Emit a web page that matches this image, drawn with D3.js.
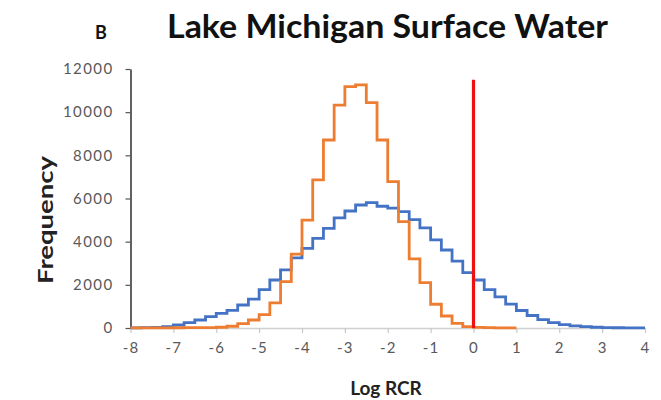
<!DOCTYPE html>
<html>
<head>
<meta charset="utf-8">
<script src="https://cdn.jsdelivr.net/npm/d3@7/dist/d3.min.js"></script>
<style>
  html, body { margin: 0; padding: 0; background: #fff; }
  svg { display: block; }
  text { font-family: Lato, "Open Sans", sans-serif; }
</style>
</head>
<body>
<script>
// Histogram of log RCR values, bins of 0.25 starting at -8
const binStart = -8;
const binWidth = 0.25;

// Blue series: -8 .. 4
const blueCounts = [
  10, 15, 30, 62, 139, 246, 370, 525,
  681, 820, 1065, 1340, 1780, 2224, 2690, 3250,
  3690, 4155, 4620, 5100, 5420, 5700, 5810, 5640,
  5550, 5390, 5020, 4640, 4080, 3614, 3100, 2563,
  2224, 1780, 1440, 1105, 810, 580, 390, 246,
  155, 100, 62, 35, 20, 12, 8, 5
];

// Orange series: -8 .. 1
const orangeCounts = [
  5, 5, 8, 10, 12, 15, 18, 22,
  35, 80, 200, 370, 620, 1160, 2145, 3420,
  5000, 6860, 8710, 10330, 11180, 11260, 10440, 8710,
  6780, 4925, 3200, 2100, 1100, 556, 216, 62,
  30, 15, 8, 4
];

// Threshold marker at log RCR = 0
const thresholdX = 0;
const thresholdTop = 11500;

const xTicks = [-8, -7, -6, -5, -4, -3, -2, -1, 0, 1, 2, 3, 4];
const yTicks = [0, 2000, 4000, 6000, 8000, 10000, 12000];

const titleText = "Lake Michigan Surface Water";
const panelLetter = "B";
const xTitle = "Log RCR";
const yTitle = "Frequency";

const W = 661, H = 400;
const svg = d3.select("body").append("svg").attr("width", W).attr("height", H);

const x = d3.scaleLinear().domain([-8, 4]).range([130.5, 645]);
const y = d3.scaleLinear().domain([0, 12000]).range([328, 69]);

// x axis (light gray, ticks downward)
const xAxis = svg.append("g")
  .attr("transform", `translate(0,${y(0)})`)
  .call(d3.axisBottom(x).tickValues(xTicks).tickSize(5).tickSizeOuter(0).tickPadding(9)
    .tickFormat(d => String(d)));
xAxis.select(".domain").attr("stroke", "#d0d0d0").attr("stroke-width", 1.5);
xAxis.selectAll(".tick line").attr("stroke", "#c8c8c8").attr("stroke-width", 1.2);
xAxis.selectAll(".tick text")
  .attr("fill", "#595959").attr("font-size", 15).style("letter-spacing", "1.2px");

// y axis (dark, ticks left)
const yAxis = svg.append("g")
  .attr("transform", `translate(${x(-8)},0)`)
  .call(d3.axisLeft(y).tickValues(yTicks).tickSize(5).tickSizeOuter(0).tickPadding(12)
    .tickFormat(d => String(d)));
yAxis.select(".domain").attr("stroke", "#3a3a3a").attr("stroke-width", 1.6);
yAxis.selectAll(".tick line").attr("stroke", "#555").attr("stroke-width", 1.2);
yAxis.selectAll(".tick text")
  .attr("fill", "#595959").attr("font-size", 15).style("letter-spacing", "1.4px");

// step outlines
function stepPoints(counts) {
  const pts = counts.map((v, i) => [binStart + i * binWidth, v]);
  pts.push([binStart + counts.length * binWidth, counts[counts.length - 1]]);
  return pts;
}
const stepLine = d3.line().x(d => x(d[0])).y(d => y(d[1])).curve(d3.curveStepAfter);

svg.append("path")
  .attr("d", stepLine(stepPoints(blueCounts)))
  .attr("fill", "none").attr("stroke", "#4472C4").attr("stroke-width", 2.8)
  .attr("stroke-linejoin", "miter");

svg.append("path")
  .attr("d", stepLine(stepPoints(orangeCounts)))
  .attr("fill", "none").attr("stroke", "#ED7D31").attr("stroke-width", 2.8)
  .attr("stroke-linejoin", "miter");

svg.append("line")
  .attr("x1", x(thresholdX)).attr("x2", x(thresholdX))
  .attr("y1", y(0)).attr("y2", y(thresholdTop))
  .attr("stroke", "#ee1111").attr("stroke-width", 3.2);

// titles
svg.append("text")
  .attr("x", 167).attr("y", 38)
  .attr("font-size", 32).attr("font-weight", 700).attr("fill", "#111")
  .attr("textLength", 441).attr("lengthAdjust", "spacingAndGlyphs")
  .text(titleText);

svg.append("text")
  .attr("x", 95).attr("y", 39)
  .attr("font-size", 18).attr("font-weight", 700).attr("fill", "#111")
  .text(panelLetter);

svg.append("text")
  .attr("transform", "translate(53,220) rotate(-90)")
  .attr("text-anchor", "middle")
  .attr("font-size", 21).attr("font-weight", 700).attr("fill", "#222")
  .attr("textLength", 128).attr("lengthAdjust", "spacingAndGlyphs")
  .text(yTitle);

svg.append("text")
  .attr("x", 386).attr("y", 395)
  .attr("text-anchor", "middle")
  .attr("font-size", 19).attr("font-weight", 700).attr("fill", "#222")
  .text(xTitle);
</script>
</body>
</html>
